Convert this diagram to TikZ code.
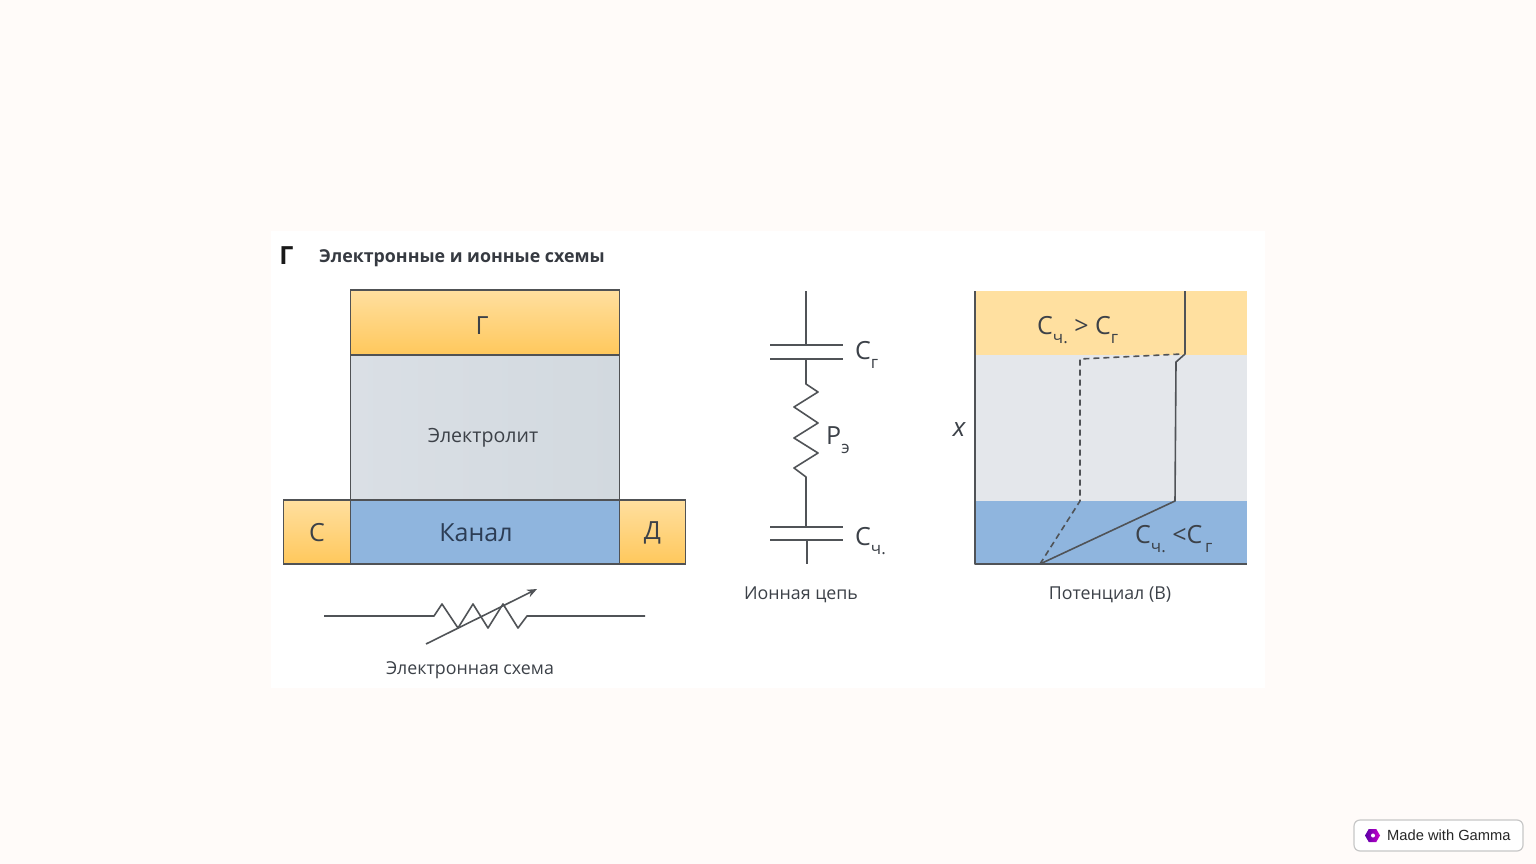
\documentclass[tikz,border=0pt]{standalone}
\usepackage{fontspec}
\setmainfont{Open Sans}
\newfontfamily\badgefont{Liberation Sans}
\usetikzlibrary{positioning,arrows.meta,shapes.geometric}
\definecolor{pagebg}{HTML}{FFFBF9}
\definecolor{goldtop}{HTML}{FFDF9F}
\definecolor{goldbot}{HTML}{FFC85C}
\definecolor{goldband}{HTML}{FFE0A0}
\definecolor{greyband}{HTML}{E4E7EB}
\definecolor{chanblue}{HTML}{8FB5DE}
\definecolor{edgeink}{HTML}{505255}
\definecolor{wireink}{HTML}{505357}
\definecolor{txtink}{HTML}{3C4148}
\definecolor{chanink}{HTML}{2C3D55}
\definecolor{elleft}{HTML}{DADFE5}
\definecolor{elright}{HTML}{D2D9DF}
\newcommand{\subtxt}[2]{#1\raisebox{-.36em}{\fontsize{17}{17}\selectfont #2}}
\tikzset{
  blockbox/.style={draw=edgeink,line width=1.5pt,inner sep=0pt,outer sep=0pt},
  goldbox/.style={blockbox,top color=goldtop,bottom color=goldbot},
  bandbox/.style={inner sep=0pt,outer sep=0pt,minimum width=272pt},
  wire/.style={draw=wireink,line width=1.6pt,line join=round},
  caption/.style={text=txtink,font=\fontsize{17.8}{20}\selectfont,inner sep=0pt},
  symtxt/.style={text=txtink,font=\fontsize{25}{28}\selectfont,inner sep=0pt,anchor=west}
}
\begin{document}
\begin{tikzpicture}[x=1pt,y=-1pt,on grid]
   \useasboundingbox (0,0) rectangle (1536,864);
   \fill[pagebg] (0,0) rectangle (1536,864);
   \fill[white] (271,231) rectangle (1265,688);
   % headline
   \node[text=black!90,font=\fontsize{25}{28}\bfseries\selectfont,inner sep=0pt] (LET) at (286.5,256) {Г};
   \node[text=txtink!90!black,font=\fontsize{17.8}{20}\bfseries\selectfont,inner sep=0pt,anchor=west] (TTL) at (319,258) {Электронные и ионные схемы};
   % device
   \node[blockbox,left color=elleft,right color=elright,minimum width=269pt,minimum height=145pt,
     label={[text=txtink,font=\fontsize{19.6}{22}\selectfont,xshift=-2pt,yshift=-10pt]center:Электролит}] (ELE) at (485,427.5) {};
   \node[goldbox,minimum width=269pt,minimum height=65pt,
     label={[text=txtink,font=\fontsize{25}{28}\selectfont,xshift=-3pt,yshift=-3pt]center:Г}] (GAT) [above=105pt of ELE] {};
   \node[blockbox,fill=chanblue,minimum width=269pt,minimum height=64pt,
     label={[text=chanink,font=\fontsize{25}{28}\selectfont,xshift=-9pt,yshift=-1pt]center:Канал}] (CHN) [below=104.5pt of ELE] {};
   \node[goldbox,minimum width=67pt,minimum height=64pt,
     label={[text=txtink,font=\fontsize{25}{28}\selectfont,yshift=-1pt]center:С}] (SRC) [left=168pt of CHN] {};
   \node[goldbox,minimum width=66pt,minimum height=64pt,
     label={[text=txtink,font=\fontsize{25}{28}\selectfont,yshift=-1pt]center:Д}] (DRN) [right=167.5pt of CHN] {};
   % electron circuit
   \coordinate (EA) at (324,616);
   \coordinate (EB) at (645,616);
   \coordinate (EC) at (426,644);
   \coordinate (ED) at (537,589);
   \draw[wire] (EA) -- (434,616) -- (442,604) -- (458,628) -- (473,604) -- (488,628)
     -- (503,604) -- (518,628) -- (527,616) -- (EB);
   \draw[wire,-{Stealth[length=10pt,width=8pt]}] (EC) -- (ED);
   \node[caption] (ELC) at (470,670) {Электронная схема};
   % ion circuit
   \coordinate (IA) at (806,291);
   \coordinate (IB) at (806,345);
   \coordinate (IC) at (806,359);
   \coordinate (ID) at (806,527);
   \coordinate (IE) at (807,540);
   \coordinate (IF) at (807,564);
   \draw[wire] (770,345) -- (843,345);
   \draw[wire] (770,359) -- (843,359);
   \draw[wire] (770,527) -- (843,527);
   \draw[wire] (770,540) -- (843,540);
   \draw[wire] (IA) -- (IB);
   \draw[wire] (IC) -- (806,384) -- (818,392) -- (794,407) -- (818,423) -- (794,438)
     -- (818,453) -- (794,468) -- (806,477) -- (ID);
   \draw[wire] (IE) -- (IF);
   \node[symtxt] (CG) at (855,355) {\subtxt{С}{г}};
   \node[symtxt] (RE) at (826,440) {\subtxt{Р}{э}};
   \node[symtxt] (CC) at (855,541) {\subtxt{С}{ч.}};
   \node[caption] (ION) at (801,595) {Ионная цепь};
   % potential chart
   \node[bandbox,fill=greyband,minimum height=146pt] (BGR) at (1111,428) {};
   \node[bandbox,fill=goldband,minimum height=64pt] (BGO) [above=105pt of BGR] {};
   \node[bandbox,fill=chanblue,minimum height=63pt] (BBL) [below=104.5pt of BGR] {};
   \coordinate (PA) at (975,291);
   \coordinate (PB) at (975,564);
   \coordinate (PC) at (1247,564);
   \coordinate (SA) at (1185,291);
   \coordinate (SB) at (1040,564);
   \draw[wire] (PA) -- (PB) -- (PC);
   \draw[wire] (SA) -- (1185,354) -- (1176,362) -- (1175,501) -- (SB);
   \draw[wire,dashed,dash pattern=on 6pt off 4pt] (SB) -- (1080,501) -- (1080,359) -- (1182,354);
   \node[symtxt] (GT) at (1037,330) {\subtxt{С}{ч.} > \subtxt{С}{г}};
   \node[symtxt] (LT) at (1135,539) {\subtxt{С}{ч.} <\subtxt{С}{\,г}};
   \node[text=txtink,font=\fontsize{26}{28}\itshape\selectfont,inner sep=0pt] (XAX) at (959,430) {x};
   \node[caption] (POT) at (1110,595) {Потенциал (В)};
   % badge
   \node[draw=black!22,line width=1.2pt,fill=white,rounded corners=6pt,minimum width=169pt,minimum height=31pt,
     inner sep=0pt] (BDG) at (1438.5,835.5) {};
   \node[regular polygon,regular polygon sides=6,minimum size=15pt,inner sep=0pt,
     left color=violet!70!blue,right color=magenta!60!violet] (LOG) at (1372.5,835.5) {};
   \node[circle,fill=white,minimum size=4pt,inner sep=0pt] (LOC) at (1373,835.5) {};
   \node[text=black!85,font=\badgefont\fontsize{14.7}{17}\selectfont,inner sep=0pt,anchor=west] (BTX) at (1387,835.5) {Made with Gamma};
\end{tikzpicture}
\end{document}
